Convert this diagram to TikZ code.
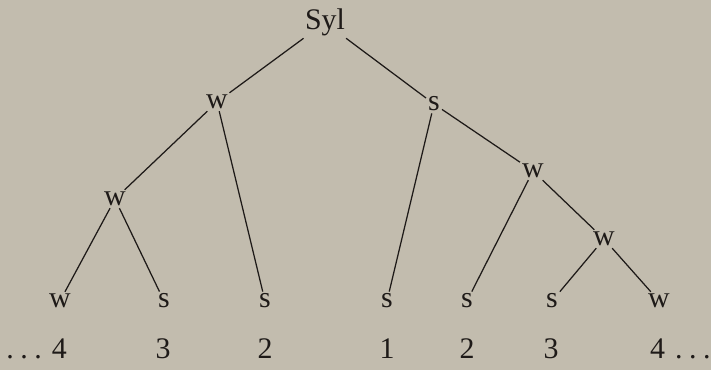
\documentclass[tikz,border=0pt]{standalone}
\usepackage{fontspec}
\setmainfont{Liberation Serif}
\usetikzlibrary{positioning}
\definecolor{Ink}{HTML}{1E1A18}
\definecolor{Paper}{HTML}{C2BCAE}
\newcommand{\spacedots}{.\kern6.5bp.\kern6.5bp.}
\tikzset{
  syl/.style={
    text=Ink, inner sep=2bp, font=\fontsize{30}{36}\selectfont
  },
  numlabel/.style={
    text=Ink, inner sep=2bp, font=\fontsize{30}{36}\selectfont
  },
  edge/.style={draw=Ink, line width=1.25pt}
}
\begin{document}
\begin{tikzpicture}[x=1bp,y=1bp]
    \fill[Paper] (0,0) rectangle (711,370);
    \useasboundingbox (0,0) rectangle (711,370);
    % tree
    \node[syl] (root) at (325,347.5) {Syl};
    \node[syl] (wA) at (217,268) {w};
    \node[syl] (sA) at (434,266) {s};
    \node[syl] (wB) at (115,171) {w};
    \node[syl] (wC) at (533,199) {w};
    \node[syl] (wD) at (604,131) {w};
    \node[syl] (leafa) at (60,69) {w};
    \node[syl] (leafb) at (164,69) {s};
    \node[syl] (leafc) at (265,69) {s};
    \node[syl] (leafd) at (387,69) {s};
    \node[syl] (leafe) at (467,69) {s};
    \node[syl] (leaff) at (552,69) {s};
    \node[syl] (leafg) at (659,69) {w};

    \draw[edge] (root) -- (wA);
    \draw[edge] (root) -- (sA);
    \draw[edge] (wA) -- (wB);
    \draw[edge] (wA) -- (leafc);
    \draw[edge] (wB) -- (leafa);
    \draw[edge] (wB) -- (leafb);
    \draw[edge] (sA) -- (leafd);
    \draw[edge] (sA) -- (wC);
    \draw[edge] (wC) -- (leafe);
    \draw[edge] (wC) -- (wD);
    \draw[edge] (wD) -- (leaff);
    \draw[edge] (wD) -- (leafg);

    % positions
    \node[numlabel,anchor=east] (numa) at (69,21) {\spacedots\kern10bp 4};
    \node[numlabel] (numb) at (163,21) {3};
    \node[numlabel] (numc) at (265,21) {2};
    \node[numlabel] (numd) at (387,21) {1};
    \node[numlabel] (nume) at (467,21) {2};
    \node[numlabel] (numf) at (551,21) {3};
    \node[numlabel,anchor=west] (numg) at (648,21) {4\kern10bp\spacedots};
  \end{tikzpicture}
\end{document}
